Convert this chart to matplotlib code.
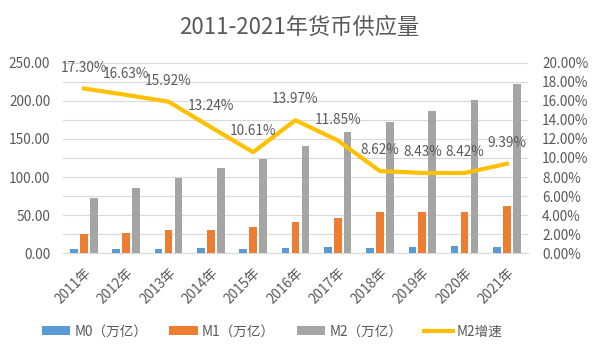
import matplotlib
matplotlib.use("Agg")
import matplotlib.pyplot as plt
import numpy as np

plt.rcParams['font.family'] = ['Noto Sans CJK SC', 'DejaVu Sans']

years = ["2011年", "2012年", "2013年", "2014年", "2015年", "2016年",
         "2017年", "2018年", "2019年", "2020年", "2021年"]
m0 = [4.8, 4.8, 4.8, 6.6, 4.8, 6.6, 7.9, 6.6, 7.9, 9.2, 7.9]
m1 = [25.1, 26.4, 30.4, 29.9, 34.3, 40.5, 46.2, 54.1, 54.1, 54.1, 62.1]
m2 = [72.6, 85.8, 99.0, 112.2, 124.1, 140.8, 158.5, 171.7, 186.2, 201.6, 221.8]
m2_growth = [17.30, 16.63, 15.92, 13.24, 10.61, 13.97, 11.85, 8.62, 8.43, 8.42, 9.39]

labels = ["M0（万亿）", "M1（万亿）", "M2（万亿）", "M2增速"]
colors = ["#5B9BD5", "#ED7D31", "#A5A5A5", "#FFC000"]
txt = "#595959"

fig = plt.figure(figsize=(5.98, 3.57), dpi=100)
ax = fig.add_axes([0.105, 0.291, 0.778, 0.533])
ax2 = ax.twinx()

x = np.arange(len(years))
w = 0.18
b0 = ax.bar(x - 0.235, m0, w, color=colors[0], label=labels[0], zorder=3)
b1 = ax.bar(x, m1, w, color=colors[1], label=labels[1], zorder=3)
b2 = ax.bar(x + 0.235, m2, w, color=colors[2], label=labels[2], zorder=3)

ax.set_ylim(0, 250)
ax.set_yticks(np.arange(0, 251, 50))
ax.set_yticklabels([f"{v:.2f}" for v in np.arange(0, 251, 50)])
ax.set_xlim(-0.5, len(years) - 0.5)
ax.set_xticks(x)
ax.set_xticklabels(years, rotation=45, ha='right', rotation_mode='anchor')

ax2.set_ylim(0, 20)
ax2.set_yticks(np.arange(0, 21, 2))
ax2.set_yticklabels([f"{v:.2f}%" for v in np.arange(0, 21, 2)])
ax2.grid(axis='y', color='#D9D9D9', linewidth=0.8, zorder=0)
ax2.set_axisbelow(True)

ax.set_zorder(ax2.get_zorder() + 1)
ax.patch.set_visible(False)

scale = 250 / 20
ax.plot(x, np.array(m2_growth) * scale, color=colors[3], linewidth=3, zorder=5)
for xi, v in zip(x, m2_growth):
    ax.annotate(f"{v:.2f}%", (xi, v * scale), xytext=(0, 15), textcoords='offset points',
                ha='center', va='center', fontsize=9.8, color=txt, zorder=6)

for a in (ax, ax2):
    for s in a.spines.values():
        s.set_visible(False)
    a.tick_params(length=0, colors=txt, labelsize=9.8)
ax.spines['bottom'].set_visible(True)
ax.spines['bottom'].set_color('#D9D9D9')
ax.tick_params(axis='x', pad=9)
ax.tick_params(axis='y', pad=9)
ax2.tick_params(axis='y', pad=10)

handles = [b0, b1, b2, plt.Line2D([], [], color=colors[3], linewidth=3)]
fig.legend(handles, labels, loc='center', bbox_to_anchor=(0.455, 0.072), ncol=4,
           frameon=False, fontsize=9.8, labelcolor=txt, handlelength=2.1,
           handleheight=0.6, handletextpad=0.3, columnspacing=1.6)

fig.text(0.5, 0.922, "2011-2021年货币供应量", ha='center', va='center',
         fontsize=16, color=txt)

fig.savefig("out.png", dpi=100)
